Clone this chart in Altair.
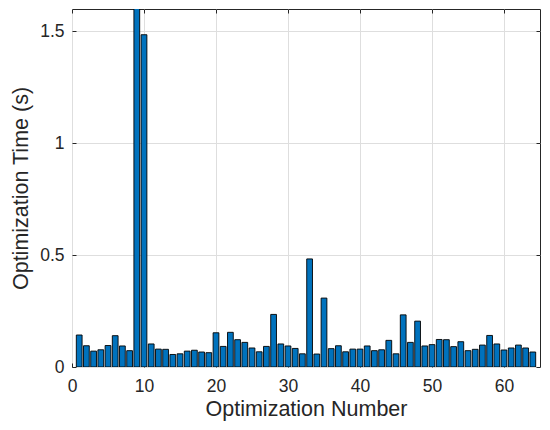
import altair as alt
import pandas as pd

run = list(range(1, 65))
seconds = [
    0.143, 0.095, 0.071, 0.077, 0.096, 0.140, 0.094, 0.073, 1.75, 1.485,
    0.103, 0.080, 0.079, 0.056, 0.059, 0.071, 0.075, 0.067, 0.064, 0.153,
    0.092, 0.155, 0.122, 0.110, 0.085, 0.068, 0.092, 0.235, 0.103, 0.094,
    0.083, 0.059, 0.483, 0.058, 0.308, 0.082, 0.095, 0.068, 0.080, 0.080,
    0.094, 0.073, 0.077, 0.119, 0.059, 0.233, 0.110, 0.205, 0.094, 0.100,
    0.123, 0.122, 0.091, 0.113, 0.073, 0.079, 0.098, 0.141, 0.103, 0.076,
    0.085, 0.098, 0.085, 0.067,
]
x_ticks = [0, 10, 20, 30, 40, 50, 60]
y_ticks = [0, 0.5, 1, 1.5]

df = pd.DataFrame({"n": run, "t": seconds})

FONT = "Liberation Sans"
AX = "#262626"
GRID = "#dedede"

xscale = alt.Scale(domain=[0, 65], nice=False, zero=False)
yscale = alt.Scale(domain=[0, 1.6], nice=False)

base = alt.Chart(df).transform_calculate(
    x0="datum.n - 0.4", x1="datum.n + 0.4"
)

bars = base.mark_bar(
    color="#0072BD", stroke="#000000", strokeWidth=0.9, clip=True
).encode(
    x=alt.X("x0:Q", scale=xscale, title="Optimization Number",
            axis=alt.Axis(orient="bottom", values=x_ticks, grid=True,
                          gridColor=GRID, domain=False, tickSize=4,
                          offset=-4, tickColor=AX, labelColor=AX,
                          labelFontSize=17.5, labelPadding=10,
                          labelFlush=False,
                          titleFontSize=21.5, titleColor=AX,
                          titlePadding=4, labelFont=FONT, titleFont=FONT,
                          titleFontWeight="normal")),
    x2="x1:Q",
    y=alt.Y("t:Q", scale=yscale, title="Optimization Time (s)",
            axis=alt.Axis(orient="left", values=y_ticks, format="~g",
                          grid=True, gridColor=GRID, domain=False,
                          tickSize=4, offset=-4, tickColor=AX,
                          labelColor=AX, labelFontSize=17.5,
                          labelPadding=8, labelFlush=False,
                          titleFontSize=21.5,
                          titleColor=AX, titlePadding=7, labelFont=FONT,
                          titleFont=FONT, titleFontWeight="normal")),
    y2=alt.datum(0),
)

frame_axes = base.mark_bar(opacity=0).encode(
    x=alt.X("x0:Q", scale=xscale, title=None,
            axis=alt.Axis(orient="top", values=x_ticks, grid=False,
                          domain=False, labels=False, tickSize=4,
                          offset=-4, tickColor=AX, zindex=2)),
    x2="x1:Q",
    y=alt.Y("t:Q", scale=yscale, title=None,
            axis=alt.Axis(orient="right", values=y_ticks, grid=False,
                          domain=False, labels=False, tickSize=4,
                          offset=-4, tickColor=AX, zindex=2)),
    y2=alt.datum(0),
)

chart = alt.layer(bars, frame_axes).resolve_axis(
    x="independent", y="independent"
).properties(
    width=468, height=358,
    autosize=alt.AutoSizeParams(type="none"),
    padding={"left": 64, "top": 1, "right": 2, "bottom": 60},
    background="white",
).configure_view(stroke=AX, strokeWidth=1)

chart.save("out.html", embed_options={"renderer": "svg", "actions": False})
